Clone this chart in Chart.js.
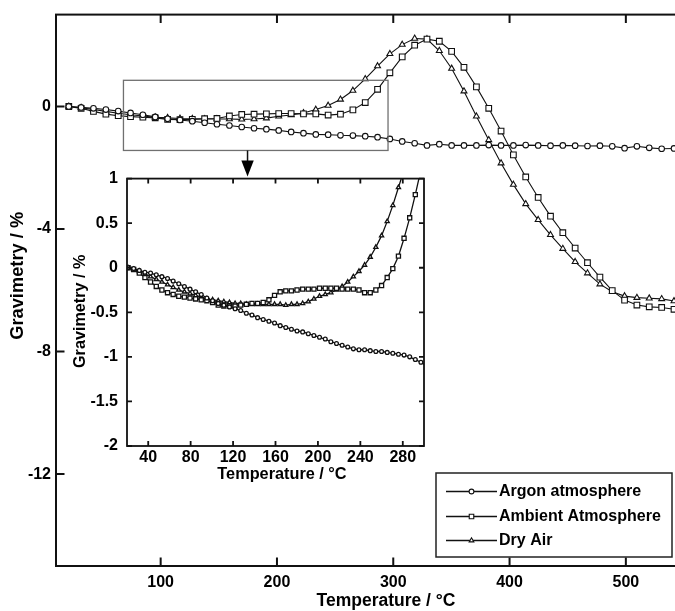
<!DOCTYPE html>
<html>
<head>
<meta charset="utf-8">
<script src="https://cdn.jsdelivr.net/npm/chart.js@4.4.1/dist/chart.umd.min.js"></script>
<style>
  html, body { margin: 0; padding: 0; background: #fff; width: 675px; height: 611px; overflow: hidden; }
  #wrap { position: relative; width: 700px; height: 611px; }
  #main { position: absolute; left: 0; top: 0; }
  #inset { position: absolute; left: 60px; top: 160px; }
</style>
</head>
<body>
<div id="wrap">
  <canvas id="main" width="700" height="611"></canvas>
  <canvas id="inset" width="380" height="326"></canvas>
</div>
<script>
// ---------- DATA ----------
const seriesLabels = ['Argon atmosphere', 'Ambient Atmosphere', 'Dry Air'];

// Main plot: temperature (°C) of every plotted marker
const mainTemperature = [21.0,31.6,42.2,52.9,63.5,74.1,84.7,95.3,106.0,116.6,127.2,137.8,148.4,159.1,169.7,180.3,190.9,201.5,212.2,222.8,233.4,244.0,254.6,265.3,275.9,286.5,297.1,307.7,318.4,329.0,339.6,350.2,360.8,371.5,382.1,392.7,403.3,413.9,424.6,435.2,445.8,456.4,467.0,477.7,488.3,498.9,509.5,520.1,530.8,541.4];
const argonMain = [0.00,-0.03,-0.06,-0.10,-0.15,-0.21,-0.27,-0.34,-0.40,-0.44,-0.48,-0.53,-0.58,-0.62,-0.67,-0.71,-0.74,-0.78,-0.83,-0.87,-0.91,-0.92,-0.94,-0.95,-0.97,-1.00,-1.06,-1.14,-1.20,-1.27,-1.23,-1.27,-1.27,-1.27,-1.26,-1.27,-1.27,-1.26,-1.27,-1.28,-1.27,-1.28,-1.29,-1.28,-1.30,-1.36,-1.30,-1.35,-1.38,-1.37];
const ambientMain = [0.00,-0.06,-0.16,-0.25,-0.30,-0.33,-0.35,-0.37,-0.42,-0.43,-0.42,-0.40,-0.39,-0.31,-0.26,-0.25,-0.24,-0.23,-0.23,-0.24,-0.24,-0.28,-0.25,-0.11,0.13,0.56,1.10,1.62,2.00,2.20,2.13,1.80,1.28,0.64,-0.06,-0.80,-1.58,-2.30,-2.97,-3.58,-4.12,-4.62,-5.10,-5.57,-6.01,-6.32,-6.48,-6.54,-6.56,-6.62];
const dryAirMain = [0.00,-0.04,-0.10,-0.16,-0.22,-0.27,-0.31,-0.35,-0.37,-0.39,-0.40,-0.41,-0.41,-0.41,-0.42,-0.41,-0.38,-0.32,-0.28,-0.21,-0.10,0.03,0.23,0.52,0.90,1.32,1.72,2.02,2.22,2.20,1.82,1.24,0.50,-0.32,-1.09,-1.85,-2.55,-3.18,-3.70,-4.19,-4.64,-5.07,-5.44,-5.80,-6.05,-6.19,-6.24,-6.26,-6.28,-6.35];

// Inset (zoom 20–300 °C): denser sampling
const insetTemperature = [21.0,26.3,31.6,36.9,42.2,47.6,52.9,58.2,63.5,68.8,74.1,79.4,84.7,90.0,95.3,100.7,106.0,111.3,116.6,121.9,127.2,132.5,137.8,143.1,148.4,153.8,159.1,164.4,169.7,175.0,180.3,185.6,190.9,196.2,201.5,206.9,212.2,217.5,222.8,228.1,233.4,238.7,244.0,249.3,254.6,260.0,265.3,270.6,275.9,281.2,286.5,291.8,297.1,302.4];
const argonInset = [0.00,-0.01,-0.03,-0.05,-0.06,-0.08,-0.10,-0.12,-0.15,-0.18,-0.21,-0.24,-0.27,-0.30,-0.34,-0.37,-0.40,-0.42,-0.44,-0.46,-0.48,-0.51,-0.53,-0.56,-0.58,-0.60,-0.62,-0.65,-0.67,-0.69,-0.71,-0.72,-0.74,-0.76,-0.78,-0.80,-0.83,-0.85,-0.87,-0.89,-0.91,-0.92,-0.92,-0.93,-0.94,-0.94,-0.95,-0.96,-0.97,-0.98,-1.00,-1.03,-1.06,-1.10];
const ambientInset = [0.00,-0.02,-0.06,-0.11,-0.16,-0.21,-0.25,-0.28,-0.30,-0.32,-0.33,-0.34,-0.35,-0.36,-0.37,-0.39,-0.42,-0.43,-0.43,-0.43,-0.42,-0.41,-0.40,-0.40,-0.39,-0.36,-0.31,-0.27,-0.26,-0.26,-0.25,-0.24,-0.24,-0.24,-0.23,-0.23,-0.23,-0.23,-0.24,-0.24,-0.24,-0.25,-0.28,-0.28,-0.25,-0.20,-0.11,-0.01,0.13,0.33,0.56,0.82,1.10,1.40];
const dryAirInset = [0.00,-0.02,-0.04,-0.07,-0.10,-0.13,-0.16,-0.19,-0.22,-0.25,-0.27,-0.29,-0.31,-0.33,-0.35,-0.36,-0.37,-0.38,-0.39,-0.40,-0.40,-0.41,-0.41,-0.41,-0.41,-0.41,-0.41,-0.41,-0.42,-0.41,-0.41,-0.40,-0.38,-0.35,-0.32,-0.30,-0.28,-0.25,-0.21,-0.16,-0.10,-0.04,0.03,0.12,0.23,0.36,0.52,0.70,0.90,1.10,1.32];

// Tick values
const mainXTicks = [100, 200, 300, 400, 500];
const mainYTicks = [0, -4, -8, -12];
const insetXTicks = [40, 80, 120, 160, 200, 240, 280];
const insetYTicks = [1, 0.5, 0, -0.5, -1, -1.5, -2];

// Zoomed region marked on the main plot (data units)
const zoomBoxX = [68, 295.5];
const zoomBoxY = [0.855, -1.435];
const zoomArrowX = 174.7;

// ---------- helpers ----------
const FONT = '"Liberation Sans", Arial, Helvetica, sans-serif';
Chart.defaults.font.family = FONT;
Chart.defaults.color = '#000';

const pts = (xs, ys) => ys.map((v, i) => ({ x: xs[i], y: v }));

function makeDataset(label, data, style, radius, lw) {
  return {
    label, data,
    pointStyle: style,
    pointRadius: radius,
    pointHoverRadius: radius,
    borderColor: '#111',
    borderWidth: lw,
    pointBorderColor: '#111',
    pointBorderWidth: lw,
    pointBackgroundColor: '#fff',
    backgroundColor: '#fff',
    fill: false,
    tension: 0
  };
}

function frameTicks(id, tickLen, lw) {
  return {
    id,
    afterDatasetsDraw(chart) {
      const { ctx, chartArea: a, scales } = chart;
      ctx.save();
      ctx.strokeStyle = '#111';
      ctx.lineWidth = lw;
      ctx.beginPath();
      scales.x.ticks.forEach(t => {
        const p = scales.x.getPixelForValue(t.value);
        ctx.moveTo(p, a.bottom); ctx.lineTo(p, a.bottom - tickLen);
        ctx.moveTo(p, a.top); ctx.lineTo(p, a.top + tickLen);
      });
      scales.y.ticks.forEach(t => {
        const p = scales.y.getPixelForValue(t.value);
        ctx.moveTo(a.left, p); ctx.lineTo(a.left + tickLen, p);
        ctx.moveTo(a.right, p); ctx.lineTo(a.right - tickLen, p);
      });
      ctx.stroke();
      ctx.strokeRect(a.left, a.top, a.right - a.left, a.bottom - a.top);
      ctx.restore();
    }
  };
}

// Axis titles, placed where the reference puts them (text comes from each scale's title option)
function axisTitles(id, place) {
  return {
    id,
    afterDraw(chart) {
      const { ctx, chartArea: a, scales } = chart;
      ctx.save();
      ctx.fillStyle = '#000';
      ctx.textAlign = 'center';
      ctx.textBaseline = 'middle';
      const xt = scales.x.options.title;
      ctx.font = 'bold ' + place.xSize + 'px ' + FONT;
      ctx.fillText(xt.text, (a.left + a.right) / 2 + place.xdx, place.xy);
      const yt = scales.y.options.title;
      ctx.font = 'bold ' + place.ySize + 'px ' + FONT;
      ctx.translate(place.yx, (a.top + a.bottom) / 2 + place.ydy);
      ctx.rotate(-Math.PI / 2);
      ctx.fillText(yt.text, 0, 0);
      ctx.restore();
    }
  };
}

function drawMarker(ctx, style, x, y, r) {
  ctx.beginPath();
  if (style === 'circle') {
    ctx.arc(x, y, r, 0, Math.PI * 2);
  } else if (style === 'rect') {
    const s = r * Math.SQRT1_2;
    ctx.rect(x - s, y - s, 2 * s, 2 * s);
  } else {
    ctx.moveTo(x, y - r);
    ctx.lineTo(x + r * Math.sin(2 * Math.PI / 3), y - r * Math.cos(2 * Math.PI / 3));
    ctx.lineTo(x + r * Math.sin(4 * Math.PI / 3), y - r * Math.cos(4 * Math.PI / 3));
    ctx.closePath();
  }
  ctx.fillStyle = '#fff';
  ctx.fill();
  ctx.strokeStyle = '#111';
  ctx.lineWidth = 1.1;
  ctx.stroke();
}

const zoomAndLegend = {
  id: 'zoomAndLegend',
  afterDraw(chart) {
    const { ctx, chartArea: a, scales: { x, y } } = chart;
    ctx.save();
    // zoom rectangle
    const bx0 = x.getPixelForValue(zoomBoxX[0]), bx1 = x.getPixelForValue(zoomBoxX[1]);
    const by0 = y.getPixelForValue(zoomBoxY[0]), by1 = y.getPixelForValue(zoomBoxY[1]);
    ctx.strokeStyle = '#707070';
    ctx.lineWidth = 1.3;
    ctx.strokeRect(bx0, by0, bx1 - bx0, by1 - by0);
    // arrow
    const ax = x.getPixelForValue(zoomArrowX);
    ctx.strokeStyle = '#111';
    ctx.lineWidth = 1.5;
    ctx.beginPath();
    ctx.moveTo(ax, by1); ctx.lineTo(ax, by1 + 12);
    ctx.stroke();
    ctx.fillStyle = '#000';
    ctx.beginPath();
    ctx.moveTo(ax - 6.2, by1 + 10);
    ctx.lineTo(ax + 6.2, by1 + 10);
    ctx.lineTo(ax, by1 + 26);
    ctx.closePath();
    ctx.fill();

    // legend box
    const lx = Math.round(a.right - 248), ly = Math.round(a.bottom - 93), lw = 236, lh = 84;
    ctx.fillStyle = '#fff';
    ctx.fillRect(lx, ly, lw, lh);
    ctx.strokeStyle = '#222';
    ctx.lineWidth = 1.5;
    ctx.strokeRect(lx, ly, lw, lh);
    const legendR = [2.4, 3.2, 2.7];
    chart.data.datasets.forEach((ds, i) => {
      const yy = Math.round(ly + 18 + i * 24.5) + 0.5;
      ctx.strokeStyle = '#111';
      ctx.lineWidth = 1.3;
      ctx.beginPath();
      ctx.moveTo(lx + 10, yy); ctx.lineTo(lx + 61, yy);
      ctx.stroke();
      drawMarker(ctx, ds.pointStyle, lx + 35.5, yy, legendR[i]);
      ctx.fillStyle = '#000';
      ctx.font = 'bold 16px ' + FONT;
      ctx.textAlign = 'left';
      ctx.textBaseline = 'middle';
      ctx.fillText(ds.label, lx + 63, yy + 0.5);
    });
    ctx.restore();
  }
};

// ---------- main chart ----------
new Chart(document.getElementById('main'), {
  type: 'line',
  data: {
    datasets: [
      makeDataset(seriesLabels[0], pts(mainTemperature, argonMain), 'circle', 2.8, 1.1),
      makeDataset(seriesLabels[1], pts(mainTemperature, ambientMain), 'rect', 4.0, 1.1),
      makeDataset(seriesLabels[2], pts(mainTemperature, dryAirMain), 'triangle', 3.4, 1.1)
    ]
  },
  options: {
    responsive: false,
    maintainAspectRatio: false,
    animation: false,
    events: [],
    layout: { padding: { top: 13, right: 16, left: 0, bottom: 0 } },
    plugins: { legend: { display: false }, tooltip: { enabled: false } },
    scales: {
      x: {
        type: 'linear', min: 10, max: 550,
        grid: { display: false, drawTicks: false },
        border: { display: false },
        afterBuildTicks: s => { s.ticks = mainXTicks.map(v => ({ value: v })); },
        afterFit: s => { s.height = 45; },
        ticks: { padding: 7, color: '#000', font: { size: 16, weight: 'bold' }, maxRotation: 0, callback: v => String(v) },
        title: { display: false, text: 'Temperature / °C' }
      },
      y: {
        type: 'linear', min: -15, max: 3,
        grid: { display: false, drawTicks: false },
        border: { display: false },
        afterBuildTicks: s => { s.ticks = mainYTicks.map(v => ({ value: v })); },
        afterFit: s => { s.width = 56; },
        ticks: { padding: 5, color: '#000', font: { size: 16, weight: 'bold' }, callback: v => String(v) },
        title: { display: false, text: 'Gravimetry / %' }
      }
    }
  },
  plugins: [
    frameTicks('mainFrame', 8.5, 2),
    axisTitles('mainTitles', { xSize: 17.5, xdx: 16, xy: 601.5, ySize: 18.3, yx: 18.3, ydy: -14.5 }),
    zoomAndLegend
  ]
});

// ---------- inset chart ----------
new Chart(document.getElementById('inset'), {
  type: 'line',
  data: {
    datasets: [
      makeDataset(seriesLabels[0], pts(insetTemperature, argonInset), 'circle', 1.9, 1.3),
      makeDataset(seriesLabels[1], pts(insetTemperature, ambientInset), 'rect', 2.9, 1.3),
      makeDataset(seriesLabels[2], pts(insetTemperature, dryAirInset), 'triangle', 2.4, 1.3)
    ]
  },
  options: {
    responsive: false,
    maintainAspectRatio: false,
    animation: false,
    events: [],
    layout: { padding: { top: 16, right: 16, left: 0, bottom: 0 } },
    plugins: { legend: { display: false }, tooltip: { enabled: false } },
    scales: {
      x: {
        type: 'linear', min: 20, max: 300,
        grid: { display: false, drawTicks: false },
        border: { display: false },
        afterBuildTicks: s => { s.ticks = insetXTicks.map(v => ({ value: v })); },
        afterFit: s => { s.height = 40; },
        ticks: { padding: 2, color: '#000', font: { size: 16, weight: 'bold' }, maxRotation: 0, callback: v => String(v) },
        title: { display: false, text: 'Temperature / °C' }
      },
      y: {
        type: 'linear', min: -2, max: 1,
        grid: { display: false, drawTicks: false },
        border: { display: false },
        afterBuildTicks: s => { s.ticks = insetYTicks.map(v => ({ value: v })); },
        afterFit: s => { s.width = 67; },
        ticks: { padding: 9, color: '#000', font: { size: 16, weight: 'bold' }, callback: v => String(v) },
        title: { display: false, text: 'Gravimetry / %' }
      }
    }
  },
  plugins: [
    frameTicks('insetFrame', 5, 1.8),
    axisTitles('insetTitles', { xSize: 16.3, xdx: 6.5, xy: 315, ySize: 16.2, yx: 21, ydy: -1 })
  ]
});
</script>
</body>
</html>
